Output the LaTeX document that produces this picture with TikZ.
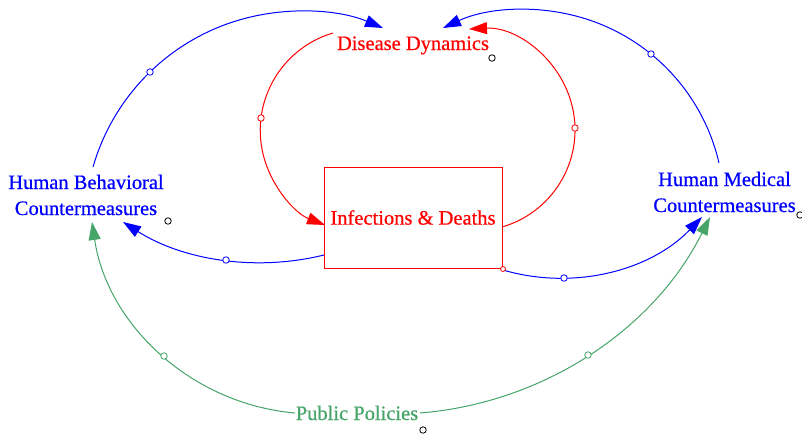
\documentclass[tikz,border=0pt]{standalone}
\usepackage{fontspec}
\setmainfont{Liberation Serif}[FakeBold=0.6]
\usetikzlibrary{arrows.meta}
\definecolor{vred}{RGB}{255,0,0}
\definecolor{vblue}{RGB}{0,0,255}
\definecolor{vgreen}{RGB}{70,165,105}
% circular arc through three points (pixel coords, y down)
\newcommand\vensimarc[9]{%
  \edef\Ax{(#4)}\edef\Ay{(\fpeval{-(#5)})}%
  \edef\Bx{(#6)}\edef\By{(\fpeval{-(#7)})}%
  \edef\Cx{(#8)}\edef\Cy{(\fpeval{-(#9)})}%
  \edef\Dd{\fpeval{2*(\Ax*(\By-\Cy)+\Bx*(\Cy-\Ay)+\Cx*(\Ay-\By))}}%
  \edef\Ux{\fpeval{((\Ax^2+\Ay^2)*(\By-\Cy)+(\Bx^2+\By^2)*(\Cy-\Ay)+(\Cx^2+\Cy^2)*(\Ay-\By))/(\Dd)}}%
  \edef\Uy{\fpeval{((\Ax^2+\Ay^2)*(\Cx-\Bx)+(\Bx^2+\By^2)*(\Ax-\Cx)+(\Cx^2+\Cy^2)*(\Bx-\Ax))/(\Dd)}}%
  \edef\Rr{\fpeval{round(sqrt((\Ax-(\Ux))^2+(\Ay-(\Uy))^2),4)}}%
  \edef\aS{\fpeval{atand(\Ay-(\Uy),\Ax-(\Ux))}}%
  \edef\aM{\fpeval{atand(\By-(\Uy),\Bx-(\Ux))}}%
  \edef\aE{\fpeval{atand(\Cy-(\Uy),\Cx-(\Ux))}}%
  \edef\sw{\fpeval{(\aE)-(\aS)-360*floor(((\aE)-(\aS))/360)}}%
  \edef\sm{\fpeval{(\aM)-(\aS)-360*floor(((\aM)-(\aS))/360)}}%
  \edef\aEnd{\fpeval{round((\sm<\sw) ? ((\aS)+(\sw)) : ((\aS)+(\sw)-360),4)}}%
  \edef\aS{\fpeval{round(\aS,4)}}%
  \coordinate (#2s) at (#4,#5);
  \coordinate (#2m) at (#6,#7);
  \coordinate (#2e) at (#8,#9);
  \draw[link,#1] (#2s) arc[start angle=\aS, end angle=\aEnd, radius=\Rr pt];
  \node[pol,draw=#3] (#2c) at (#2m) {};
}
\begin{document}
\begin{tikzpicture}[x=1pt,y=-1pt,
  every node/.style={font=\fontsize{20.5}{24}\selectfont, inner sep=0pt},
  link/.style={line width=1pt, -{Triangle[length=18pt,width=12pt]}},
  pol/.style={circle, fill=white, line width=0.8pt, minimum size=6.5pt, inner sep=0pt},
  dotmark/.style={circle, draw=black, fill=white, line width=0.8pt, minimum size=6.5pt, inner sep=0pt},
  stockbox/.style={draw=vred, line width=1pt, minimum width=178pt, minimum height=101pt, text=vred}]
\useasboundingbox (0,0) rectangle (802,436);
\fill[white] (0,0) rectangle (802,436);

% arcs
\vensimarc{vblue}{a1}{vblue}{93}{167}{150}{72}{383}{28}
\vensimarc{vblue}{a2}{vblue}{719}{163}{651}{54}{443}{28}
\vensimarc{vred}{a3}{vred}{333}{33}{261}{118}{325}{225}
\vensimarc{vred}{a4}{vred}{502}{227}{575}{128}{469}{29}
\vensimarc{vblue}{a5}{vblue}{324}{255}{226}{260}{123}{222}
\vensimarc{vblue}{a6}{vblue}{503}{270}{564}{278}{702}{217}
\vensimarc{vgreen}{a7}{vgreen}{295}{413}{164}{356}{92}{222}
\vensimarc{vgreen}{a8}{vgreen}{420}{413}{588}{355}{710}{217}

% stock
\node[stockbox] (inf) at (413,217.5) {Infections \& Deaths};
\node[pol, draw=vred, minimum size=5pt] (infc) at (503,269) {};

% labels
\node[text=vred, anchor=base] (dd) at (413,50) {Disease Dynamics};
\node[text=vblue, anchor=base] (hb1) at (86,189) {Human Behavioral};
\node[text=vblue, anchor=base] (hb2) at (86,215) {Countermeasures};
\node[text=vblue, anchor=base] (hm1) at (724.5,186) {Human Medical};
\node[text=vblue, anchor=base] (hm2) at (724.5,212) {Countermeasures};
\node[text=vgreen, anchor=base] (pp) at (357,420) {Public Policies};

% black markers
\node[dotmark] (mdd) at (492,58) {};
\node[dotmark] (mhb) at (168,221) {};
\node[dotmark] (mhm) at (800,215) {};
\node[dotmark] (mpp) at (423,430) {};
\end{tikzpicture}
\end{document}
